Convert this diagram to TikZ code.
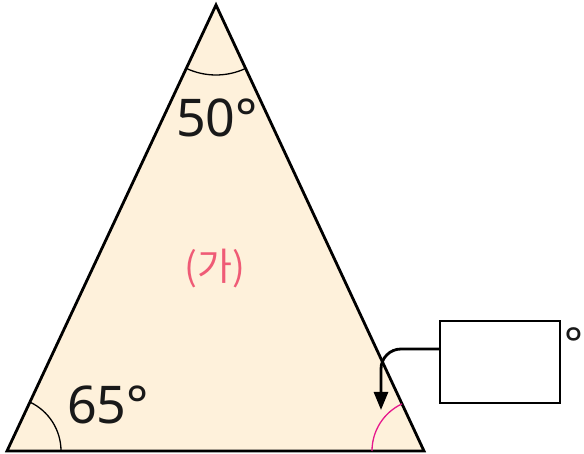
\documentclass[tikz,border=0pt]{standalone}
\usepackage{fontspec}
\setmainfont{Noto Sans}
\newfontfamily\kofont{Noto Sans CJK KR}
\usepackage{tikz}
\usetikzlibrary{arrows.meta, positioning, angles, calc}
\definecolor{cream}{HTML}{FEF1DB}
\definecolor{labelpink}{HTML}{EF5B76}
\definecolor{arcpink}{HTML}{E6188C}

\begin{document}
\begin{tikzpicture}[
  x=1pt, y=1pt,
  every node/.style={align=center, inner sep=0pt},
  anglelabel/.style={font=\fontsize{52}{52}\selectfont, text=black!90},
  answerbox/.style={draw, line width=1.4pt, minimum width=120pt, minimum height=82pt}
]
  \useasboundingbox (0,0) rectangle (584,454);

  \coordinate (A) at (216,449);
  \coordinate (B) at (7,3);
  \coordinate (C) at (424,3);

  \filldraw[fill=cream, line width=2.8pt, line join=miter] (A) -- (B) -- (C) -- cycle;

  \pic[draw, line width=1.3pt, angle radius=70pt] {angle = B--A--C};
  \pic[draw, line width=1.3pt, angle radius=54pt] {angle = C--B--A};
  \pic[draw=arcpink, line width=1.3pt, angle radius=52pt] {angle = A--C--B};

  \node[anglelabel] (top) at (217,336) {50°};
  \node[anglelabel] (left) at (108,49) {65°};
  \node[font=\kofont\fontsize{38}{38}\selectfont, text=labelpink] (ga) at (215,185) {(가)};

  \node[answerbox] (box) at (500,92) {};
  \node[font=\bfseries\fontsize{44}{44}\selectfont, text=black!90, anchor=north west] (deg) at (564,127) {°};

  \coordinate (tip) at (381,44);
  \draw[line width=2.8pt, rounded corners=20pt, -{Triangle[length=18pt, width=14pt]}] ([yshift=13pt]box.west) -| (tip);
\end{tikzpicture}
\end{document}
